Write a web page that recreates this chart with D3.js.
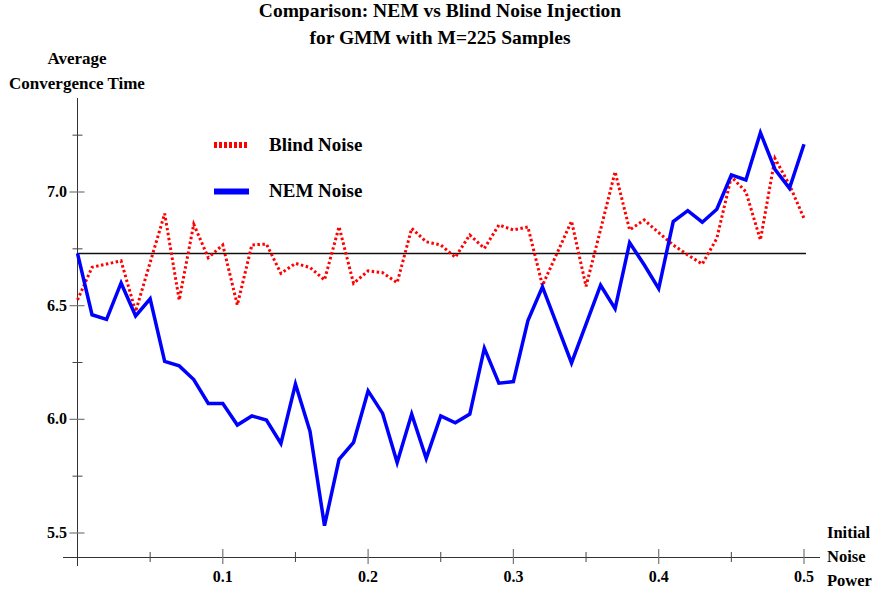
<!DOCTYPE html>
<html>
<head>
<meta charset="utf-8">
<script src="https://cdn.jsdelivr.net/npm/d3@7"></script>
<style>
  body { margin: 0; background: #fff; }
</style>
</head>
<body>
<div class="content"></div>
<script>
var noisePower = [0.00, 0.01, 0.02, 0.03, 0.04, 0.05, 0.06, 0.07, 0.08, 0.09,
    0.10, 0.11, 0.12, 0.13, 0.14, 0.15, 0.16, 0.17, 0.18, 0.19,
    0.20, 0.21, 0.22, 0.23, 0.24, 0.25, 0.26, 0.27, 0.28, 0.29,
    0.30, 0.31, 0.32, 0.33, 0.34, 0.35, 0.36, 0.37, 0.38, 0.39,
    0.40, 0.41, 0.42, 0.43, 0.44, 0.45, 0.46, 0.47, 0.48, 0.49, 0.50];

var nemNoise = [6.73, 6.46, 6.44, 6.60, 6.455, 6.53, 6.255, 6.235, 6.175, 6.07,
    6.07, 5.975, 6.015, 5.997, 5.894, 6.155, 5.948, 5.532, 5.824, 5.899,
    6.125, 6.026, 5.810, 6.023, 5.828, 6.015, 5.985, 6.023, 6.313, 6.159,
    6.166, 6.434, 6.583, 6.416, 6.248, 6.419, 6.590, 6.487, 6.777, 6.68,
    6.575, 6.87, 6.918, 6.867, 6.924, 7.075, 7.053, 7.261, 7.100, 7.016, 7.210];

var blindNoise = [6.525, 6.669, 6.683, 6.697, 6.474, 6.69, 6.905, 6.525, 6.858, 6.711,
    6.767, 6.503, 6.767, 6.771, 6.642, 6.686, 6.668, 6.613, 6.847, 6.598,
    6.653, 6.645, 6.601, 6.840, 6.781, 6.767, 6.713, 6.811, 6.752, 6.855,
    6.833, 6.846, 6.589, 6.73, 6.872, 6.585, 6.835, 7.089, 6.833, 6.877,
    6.821, 6.767, 6.723, 6.683, 6.796, 7.067, 7.001, 6.789, 7.148, 7.031, 6.884];

var baseline = 6.73;

var xMajor = [0.1, 0.2, 0.3, 0.4, 0.5];
var xMinor = [0.05, 0.15, 0.25, 0.35, 0.45];
var yMajor = [5.5, 6.0, 6.5, 7.0];
var yMinor = [5.75, 6.25, 6.75, 7.25];

var title = ["Comparison: NEM vs Blind Noise Injection", "for GMM with M=225 Samples"];

var FONT = "'Liberation Serif', 'Times New Roman', Times, 'DejaVu Serif', serif";

var svg = d3.select('.content').append('svg')
    .attr('width', 875)
    .attr('height', 596);

function label(xp, yp, txt, size, anchor) {
    return svg.append('text')
        .attr('x', xp).attr('y', yp)
        .attr('text-anchor', anchor || 'start')
        .attr('font-family', FONT)
        .attr('font-weight', 'bold')
        .attr('font-size', size)
        .attr('fill', '#000')
        .text(txt);
}

var x = d3.scaleLinear().domain([0, 0.5]).range([77.5, 804]);
var y = d3.scaleLinear().domain([5.5, 7.0]).range([533, 192]);

// title
title.forEach(function(t, i) {
    label(440, 17 + i * 27, t, 19.5, 'middle');
});

// y axis label
label(77, 64, 'Average', 17, 'middle');
label(77, 89, 'Convergence Time', 17, 'middle');

// x axis label
['Initial', 'Noise', 'Power'].forEach(function(t, i) {
    label(827, 538 + i * 24, t, 16.5);
});

// axes lines
svg.append('line')
    .attr('x1', x(0)).attr('y1', 98)
    .attr('x2', x(0)).attr('y2', 566)
    .attr('stroke', '#333').attr('stroke-width', 1);
svg.append('line')
    .attr('x1', 63).attr('y1', 557.5)
    .attr('x2', 820).attr('y2', 557.5)
    .attr('stroke', '#333').attr('stroke-width', 1);

// y ticks
yMajor.forEach(function(v) {
    svg.append('line')
        .attr('x1', x(0) - 8).attr('x2', x(0) + 7)
        .attr('y1', y(v)).attr('y2', y(v))
        .attr('stroke', '#777').attr('stroke-width', 1.2);
    label(67, y(v) + 5, d3.format('.1f')(v), 16, 'end');
});
yMinor.forEach(function(v) {
    svg.append('line')
        .attr('x1', x(0) - 5).attr('x2', x(0) + 5)
        .attr('y1', y(v)).attr('y2', y(v))
        .attr('stroke', '#444').attr('stroke-width', 1);
});

// x ticks
xMajor.forEach(function(v) {
    svg.append('line')
        .attr('x1', x(v)).attr('x2', x(v))
        .attr('y1', 549).attr('y2', 564)
        .attr('stroke', '#777').attr('stroke-width', 1.2);
    label(x(v), 582, d3.format('.1f')(v), 16, 'middle');
});
xMinor.forEach(function(v) {
    svg.append('line')
        .attr('x1', x(v)).attr('x2', x(v))
        .attr('y1', 552).attr('y2', 562)
        .attr('stroke', '#444').attr('stroke-width', 1);
});

// reference line
svg.append('line')
    .attr('x1', x(0)).attr('x2', x(0.5) + 2)
    .attr('y1', y(baseline)).attr('y2', y(baseline))
    .attr('stroke', '#111').attr('stroke-width', 1.5);

var line = d3.line()
    .x(function(d, i) { return x(noisePower[i]); })
    .y(function(d) { return y(d); });

svg.append('path')
    .datum(blindNoise)
    .attr('d', line)
    .attr('fill', 'none')
    .attr('stroke', '#ff0000')
    .attr('stroke-width', 3)
    .attr('stroke-dasharray', '2.5,2.5');

svg.append('path')
    .datum(nemNoise)
    .attr('d', line)
    .attr('fill', 'none')
    .attr('stroke', '#0000ff')
    .attr('stroke-width', 3.5);

// legend
svg.append('line')
    .attr('x1', 214).attr('x2', 249).attr('y1', 145).attr('y2', 145)
    .attr('stroke', '#ff0000').attr('stroke-width', 6)
    .attr('stroke-dasharray', '3,2');
label(269, 151, 'Blind Noise', 19);
svg.append('line')
    .attr('x1', 214).attr('x2', 249).attr('y1', 191.5).attr('y2', 191.5)
    .attr('stroke', '#0000ff').attr('stroke-width', 6);
label(269, 197, 'NEM Noise', 19);
</script>
</body>
</html>
